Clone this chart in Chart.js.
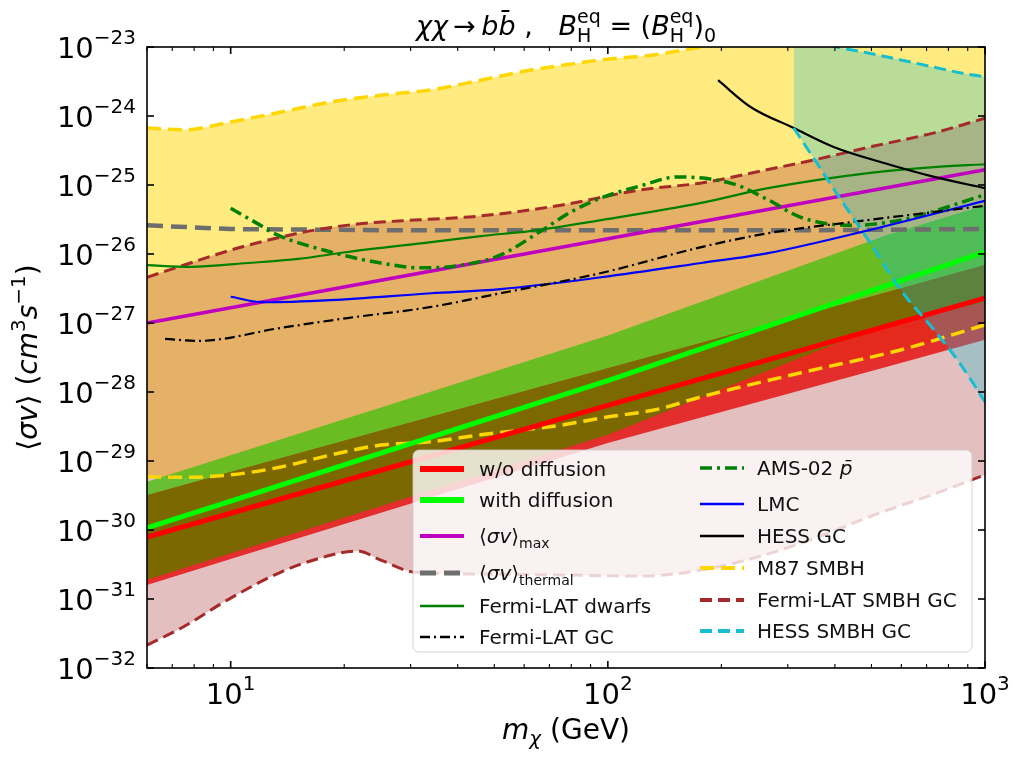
<!DOCTYPE html>
<html lang="en">
<head>
<meta charset="UTF-8">
<title>Annihilation limits, chi chi to b bbar</title>
<script src="https://cdn.jsdelivr.net/npm/chart.js"></script>
<style>
  body { margin: 0; background: #fff; }
  canvas { display: block; }
</style>
</head>
<body>
<canvas id="limitChart" width="1013" height="758"></canvas>
<script>
// ---- data (mass in GeV, <sigma v> in cm^3/s) ----
const xTicks = [10, 100, 1000];
const xTickPowers = ['1', '2', '3'];
const xMinorTicks = [6, 7, 8, 9, 20, 30, 40, 50, 60, 70, 80, 90, 200, 300, 400, 500, 600, 700, 800, 900];
const yTicks = [1e-32, 1e-31, 1e-30, 1e-29, 1e-28, 1e-27, 1e-26, 1e-25, 1e-24, 1e-23];
const yTickPowers = ['\u221232', '\u221231', '\u221230', '\u221229', '\u221228', '\u221227', '\u221226', '\u221225', '\u221224', '\u221223'];

// M87 SMBH (shaded between the two gold dashed lines)
const m87Mass  = [6, 7.5, 10, 13.6, 18.4, 25, 34, 46, 62, 75, 96, 135, 177, 325, 600, 1000];
const m87Upper = [6.7e-25, 6.3e-25, 8.2e-25, 1.14e-24, 1.6e-24, 2.0e-24, 2.4e-24, 3.3e-24, 4.6e-24, 5.4e-24, 6.5e-24, 7.8e-24, 1.0e-23, 1.6e-23, 2.2e-23, 3.0e-23];
const m87Lower = [5.9e-30, 5.8e-30, 6.3e-30, 8.2e-30, 1.22e-29, 1.7e-29, 1.9e-29, 2.4e-29, 2.9e-29, 3.3e-29, 4.2e-29, 5.6e-29, 8.5e-29, 1.9e-28, 4.1e-28, 9.4e-28];

// Fermi-LAT SMBH GC
const smbhMass  = [6, 7.4, 10, 13.6, 17.3, 21.7, 25, 30.6, 46, 75, 122, 177, 255, 361, 508, 733, 1000];
const smbhUpper = [4.6e-27, 6.7e-27, 1.14e-26, 1.76e-26, 2.3e-26, 2.72e-26, 2.9e-26, 3.1e-26, 3.56e-26, 5.1e-26, 8.5e-26, 1.07e-25, 1.6e-25, 2.38e-25, 3.67e-25, 5.7e-25, 9.3e-25];
const smbhLower = [2.15e-32, 3.8e-32, 1.03e-31, 2.46e-31, 3.93e-31, 4.96e-31, 3.67e-31, 2.46e-31, 2.3e-31, 2.23e-31, 2.15e-31, 2.63e-31, 4.2e-31, 7.9e-31, 1.65e-30, 3.33e-30, 6.3e-30];

// HESS SMBH GC
const hessSmbhMass  = [311, 361, 415, 490, 598, 733, 864, 1000];
const hessSmbhUpper = [1.45e-23, 1.15e-23, 9.7e-24, 8.2e-24, 6.5e-24, 5.1e-24, 4.2e-24, 3.7e-24];
const hessSmbhLower = [6.7e-25, 1.95e-25, 6.1e-26, 1.6e-26, 3.0e-27, 7.9e-28, 2.46e-28, 7.2e-29];

// predicted bands, w/o and with diffusion
const bandMass      = [6, 10, 100, 550, 1000];
const noDiffCentral = [7.9e-31, 1.75e-30, 6.4e-29, 9.1e-28, 2.3e-27];
const noDiffUpper   = [3.2e-30, 6.9e-30, 2.2e-28, 2.8e-27, 6.9e-27];
const noDiffLower   = [1.6e-31, 3.8e-31, 1.82e-29, 2.33e-28, 5.7e-28];
const diffCentral   = [1.07e-30, 2.62e-30, 1.46e-28, 3.5e-27, 1.07e-26];
const diffUpper     = [5.0e-30, 1.21e-29, 6.6e-28, 1.88e-26, 5.1e-26];
const diffLower     = [1.9e-31, 4.6e-31, 2.4e-29, 1.0e-27, 2.0e-27];

const sigmaMaxMass = [6, 10, 100, 1000];
const sigmaMax     = [1.0e-27, 1.66e-27, 1.66e-26, 1.66e-25];

const thermalMass = [6, 10, 30, 100, 300, 1000];
const thermal     = [2.6e-26, 2.3e-26, 2.2e-26, 2.2e-26, 2.2e-26, 2.3e-26];

const dwarfMass  = [6, 7.8, 11.1, 15.1, 20.4, 34, 46, 62, 96, 177, 266, 490, 733, 1000];
const dwarfLimit = [6.9e-27, 6.5e-27, 7.4e-27, 8.5e-27, 1.07e-26, 1.49e-26, 1.82e-26, 2.15e-26, 3.1e-26, 5.5e-26, 9.0e-26, 1.49e-25, 1.82e-25, 2.0e-25];

const amsMass  = [10, 12, 13, 18.4, 25, 32, 41, 52, 66, 80, 96, 122, 153, 216, 266, 325, 441, 598, 1000];
const amsLimit = [4.6e-26, 2.6e-26, 2.0e-26, 1.07e-26, 7.4e-27, 6.3e-27, 6.9e-27, 9.7e-27, 2.1e-26, 4.1e-26, 6.5e-26, 9.7e-26, 1.31e-25, 1.03e-25, 6.1e-26, 3.4e-26, 2.6e-26, 3.1e-26, 7.2e-26];

const lmcMass  = [10, 12.2, 18.4, 34, 52, 96, 177, 266, 490, 1000];
const lmcLimit = [2.4e-27, 2.0e-27, 2.15e-27, 2.7e-27, 3.1e-27, 4.6e-27, 7.4e-27, 1.03e-26, 2.2e-26, 5.9e-26];

const fermiGcMass  = [6.7, 8.2, 13.6, 20.4, 34, 52, 96, 177, 266, 490, 1000];
const fermiGcLimit = [5.9e-28, 5.5e-28, 8.5e-28, 1.18e-27, 1.71e-27, 2.7e-27, 5.3e-27, 1.26e-26, 2.0e-26, 3.1e-26, 5.0e-26];

const hessGcMass  = [196, 239, 311, 397, 540, 733, 1000];
const hessGcLimit = [3.3e-24, 1.35e-24, 6.7e-25, 3.56e-25, 2.08e-25, 1.31e-25, 9.0e-26];

// ---- helpers ----
const FAMILY = '"DejaVu Sans", sans-serif';
function font(size, italic) { return (italic ? 'italic ' : '') + size + 'px ' + FAMILY; }
function pts(xs, ys) { return xs.map((x, i) => ({ x: x, y: ys[i] })); }

function lineSet(key, xs, ys, color, width, dash, order, smooth) {
  return {
    key: key, data: pts(xs, ys), borderColor: color, backgroundColor: color,
    borderWidth: width, borderDash: dash || [], pointRadius: 0, fill: false,
    order: order, clip: 0, tension: 0,
    cubicInterpolationMode: smooth ? 'monotone' : 'default'
  };
}
function fillSet(key, xs, ys, color, target, order, smooth) {
  return {
    key: key, data: pts(xs, ys), borderColor: 'rgba(0,0,0,0)', borderWidth: 0,
    backgroundColor: color, pointRadius: 0, fillTo: target, order: order, clip: 0,
    tension: 0, cubicInterpolationMode: smooth ? 'monotone' : 'default'
  };
}

const datasets = [
  // shaded regions (higher order = drawn further back)
  fillSet('m87Fill', m87Mass, m87Upper, 'rgba(255,215,0,0.5)', 'm87Low', 100, true),
  fillSet('diffFill', bandMass, diffUpper, 'rgba(30,255,0,0.78)', 'diffLow', 95),
  fillSet('noDiffFill', bandMass, noDiffUpper, 'rgba(255,0,0,0.82)', 'noDiffLow', 90),
  fillSet('smbhFill', smbhMass, smbhUpper, 'rgba(165,42,42,0.3)', 'smbhLow', 85, true),
  fillSet('overlapFill', bandMass, noDiffUpper, 'rgba(115,112,0,0.9)', 'diffLow', 80),
  fillSet('hessSmbhFill', hessSmbhMass, hessSmbhUpper, 'rgba(23,190,207,0.3)', 'hessSmbhLow', 75, true),
  fillSet('diffLow', bandMass, diffLower, 'rgba(0,0,0,0)', null, 70),
  fillSet('noDiffLow', bandMass, noDiffLower, 'rgba(0,0,0,0)', null, 70),
  // lines
  lineSet('thermal', thermalMass, thermal, '#6e6e6e', 4.5, [16, 8], 50),
  lineSet('smbh', smbhMass, smbhUpper, '#a52a2a', 3, [12, 6], 45, true),
  lineSet('smbhLow', smbhMass, smbhLower, '#a52a2a', 3, [12, 6], 45, true),
  lineSet('m87', m87Mass, m87Upper, '#ffd700', 3.5, [14, 7], 44, true),
  lineSet('m87Low', m87Mass, m87Lower, '#ffd700', 3.5, [14, 7], 44, true),
  lineSet('diff', bandMass, diffCentral, '#00ff00', 5, [], 40),
  lineSet('noDiff', bandMass, noDiffCentral, '#ff0000', 5, [], 39),
  lineSet('sigmaMax', sigmaMaxMass, sigmaMax, '#bf00bf', 3.5, [], 35),
  lineSet('dwarfs', dwarfMass, dwarfLimit, '#008000', 2.2, [], 30, true),
  lineSet('ams', amsMass, amsLimit, '#008000', 3.5, [12, 5, 3, 5], 29, true),
  lineSet('lmc', lmcMass, lmcLimit, '#0000ff', 2.2, [], 28, true),
  lineSet('fermiGc', fermiGcMass, fermiGcLimit, '#000000', 2.2, [10, 4, 2, 4], 27, true),
  lineSet('hessGc', hessGcMass, hessGcLimit, '#000000', 2.2, [], 26, true),
  lineSet('hessSmbh', hessSmbhMass, hessSmbhUpper, '#17becf', 3, [12, 6], 20, true),
  lineSet('hessSmbhLow', hessSmbhMass, hessSmbhLower, '#17becf', 3, [12, 6], 20, true)
];
// resolve fill targets by key
datasets.forEach(ds => {
  if (ds.fillTo === undefined) return;
  if (ds.fillTo === null) { ds.fill = false; return; }
  const idx = datasets.findIndex(d => d.key === ds.fillTo);
  ds.fill = { target: idx, above: ds.backgroundColor, below: ds.backgroundColor };
});
function byKey(key) { return datasets.find(d => d.key === key); }

// rich text: parts {t,size,it,dy} or {stack:[sup,sub], size, dy:[supDy,subDy]}
function richWidth(ctx, parts) {
  let w = 0;
  parts.forEach(p => {
    if (p.stack) {
      ctx.font = font(p.size, false);
      w += Math.max(ctx.measureText(p.stack[0]).width, ctx.measureText(p.stack[1]).width);
    } else {
      ctx.font = font(p.size, p.it);
      w += ctx.measureText(p.t).width;
    }
  });
  return w;
}
function drawRich(ctx, parts, x, y, align) {
  const w = richWidth(ctx, parts);
  let cx = align === 'center' ? x - w / 2 : (align === 'right' ? x - w : x);
  ctx.textAlign = 'left';
  ctx.textBaseline = 'alphabetic';
  parts.forEach(p => {
    if (p.stack) {
      ctx.font = font(p.size, false);
      ctx.fillText(p.stack[0], cx, y + p.dy[0]);
      ctx.fillText(p.stack[1], cx, y + p.dy[1]);
      cx += Math.max(ctx.measureText(p.stack[0]).width, ctx.measureText(p.stack[1]).width);
    } else {
      ctx.font = font(p.size, p.it);
      ctx.fillText(p.t, cx, y + (p.dy || 0));
      cx += ctx.measureText(p.t).width;
    }
  });
}

// axes frame, inward ticks, tick labels, axis titles, title
const framePlugin = {
  id: 'frame',
  afterDatasetsDraw(chart) {
    const ctx = chart.ctx, a = chart.chartArea;
    const xs = chart.scales.x, ys = chart.scales.y;
    ctx.save();
    ctx.strokeStyle = '#000';
    function seg(x1, y1, x2, y2, w) {
      ctx.lineWidth = w; ctx.beginPath(); ctx.moveTo(x1, y1); ctx.lineTo(x2, y2); ctx.stroke();
    }
    xTicks.forEach(v => {
      const px = xs.getPixelForValue(v);
      seg(px, a.bottom, px, a.bottom - 7, 1.6);
      seg(px, a.top, px, a.top + 7, 1.6);
    });
    xMinorTicks.forEach(v => {
      const px = xs.getPixelForValue(v);
      seg(px, a.bottom, px, a.bottom - 4, 1.1);
      seg(px, a.top, px, a.top + 4, 1.1);
    });
    yTicks.forEach(v => {
      const py = ys.getPixelForValue(v);
      seg(a.left, py, a.left + 7, py, 1.6);
      seg(a.right, py, a.right - 7, py, 1.6);
    });
    ctx.lineWidth = 1.6;
    ctx.strokeRect(a.left, a.top, a.right - a.left, a.bottom - a.top);

    ctx.fillStyle = '#000';
    xTicks.forEach((v, i) => {
      const px = xs.getPixelForValue(v);
      drawRich(ctx, [{ t: '10', size: 29 }, { t: xTickPowers[i], size: 20, dy: -14 }], px, a.bottom + 36, 'center');
    });
    yTicks.forEach((v, i) => {
      const py = ys.getPixelForValue(v);
      drawRich(ctx, [{ t: '10', size: 29 }, { t: yTickPowers[i], size: 20, dy: -14 }], a.left - 11, py + 11, 'right');
    });

    // x title
    drawRich(ctx, [{ t: 'm', size: 28, it: true }, { t: '\u03c7', size: 20, it: true, dy: 6 }, { t: ' (GeV)', size: 28 }],
      (a.left + a.right) / 2, 739, 'center');
    // y title
    ctx.save();
    ctx.translate(27, (a.top + a.bottom) / 2);
    ctx.rotate(-Math.PI / 2);
    drawRich(ctx, [
      { t: '\u27e8', size: 28 }, { t: '\u03c3v', size: 28, it: true }, { t: '\u27e9 (', size: 28 },
      { t: 'cm', size: 28, it: true }, { t: '3', size: 20, dy: -12 }, { t: 's', size: 28, it: true },
      { t: '\u22121', size: 20, dy: -12 }, { t: ')', size: 28 }
    ], 0, 10, 'center');
    ctx.restore();

    // title
    const B = [{ t: 'B', size: 27, it: true }, { stack: ['eq', 'H'], size: 19, dy: [-12, 7] }];
    drawRich(ctx, [
      { t: '\u03c7\u03c7', size: 27, it: true }, { t: '\u2009\u2192\u2009', size: 27 }, { t: 'bb\u0304', size: 27, it: true },
      { t: ' ,   ', size: 27 }
    ].concat(B, [{ t: ' = (', size: 27 }], B, [{ t: ')', size: 27 }, { t: '0', size: 19, dy: 7 }]),
      (a.left + a.right) / 2, 35, 'center');
    ctx.restore();
  }
};

// legend inside the axes, two columns
const legendCols = [
  { handleX: 420, textX: 479, rows: [
    ['noDiff', 469, [{ t: 'w/o diffusion', size: 20 }], 6],
    ['diff', 500, [{ t: 'with diffusion', size: 20 }], 6],
    ['sigmaMax', 536, [{ t: '\u27e8', size: 20 }, { t: '\u03c3v', size: 20, it: true }, { t: '\u27e9', size: 20 }, { t: 'max', size: 14, dy: 5 }], 4],
    ['thermal', 573, [{ t: '\u27e8', size: 20 }, { t: '\u03c3v', size: 20, it: true }, { t: '\u27e9', size: 20 }, { t: 'thermal', size: 14, dy: 5 }], 5],
    ['dwarfs', 606, [{ t: 'Fermi-LAT dwarfs', size: 20 }], 2.5],
    ['fermiGc', 637, [{ t: 'Fermi-LAT GC', size: 20 }], 2.5]
  ] },
  { handleX: 700, textX: 757, rows: [
    ['ams', 468, [{ t: 'AMS-02 ', size: 20 }, { t: 'p\u0304', size: 20, it: true }], 3.5],
    ['lmc', 504, [{ t: 'LMC', size: 20 }], 2.5],
    ['hessGc', 536, [{ t: 'HESS GC', size: 20 }], 2.5],
    ['m87', 568, [{ t: 'M87 SMBH', size: 20 }], 4],
    ['smbh', 600, [{ t: 'Fermi-LAT SMBH GC', size: 20 }], 4],
    ['hessSmbh', 631, [{ t: 'HESS SMBH GC', size: 20 }], 4]
  ] }
];
const legendPlugin = {
  id: 'boxLegend',
  afterDraw(chart) {
    const ctx = chart.ctx;
    ctx.save();
    const bx = 413, by = 450, bw = 559, bh = 202, r = 6;
    ctx.beginPath();
    ctx.moveTo(bx + r, by);
    ctx.arcTo(bx + bw, by, bx + bw, by + bh, r);
    ctx.arcTo(bx + bw, by + bh, bx, by + bh, r);
    ctx.arcTo(bx, by + bh, bx, by, r);
    ctx.arcTo(bx, by, bx + bw, by, r);
    ctx.closePath();
    ctx.fillStyle = 'rgba(255,255,255,0.8)';
    ctx.fill();
    ctx.strokeStyle = 'rgba(204,204,204,0.8)';
    ctx.lineWidth = 1;
    ctx.stroke();
    legendCols.forEach(col => {
      col.rows.forEach(row => {
        const ds = byKey(row[0]);
        ctx.strokeStyle = ds.borderColor;
        ctx.lineWidth = row[3];
        ctx.setLineDash(ds.borderDash);
        ctx.beginPath();
        ctx.moveTo(col.handleX, row[1]);
        ctx.lineTo(col.handleX + 44, row[1]);
        ctx.stroke();
        ctx.setLineDash([]);
        ctx.fillStyle = '#111';
        drawRich(ctx, row[2], col.textX, row[1] + 7, 'left');
      });
    });
    ctx.restore();
  }
};

new Chart(document.getElementById('limitChart').getContext('2d'), {
  type: 'line',
  data: { datasets: datasets },
  options: {
    responsive: false,
    devicePixelRatio: 1,
    animation: false,
    events: [],
    layout: { padding: { left: 147, right: 28, top: 47, bottom: 90 } },
    scales: {
      x: { type: 'logarithmic', min: 6, max: 1000, display: false },
      y: { type: 'logarithmic', min: 1e-32, max: 1e-23, display: false }
    },
    plugins: { legend: { display: false }, tooltip: { enabled: false }, title: { display: false } }
  },
  plugins: [framePlugin, legendPlugin]
});
</script>
</body>
</html>
